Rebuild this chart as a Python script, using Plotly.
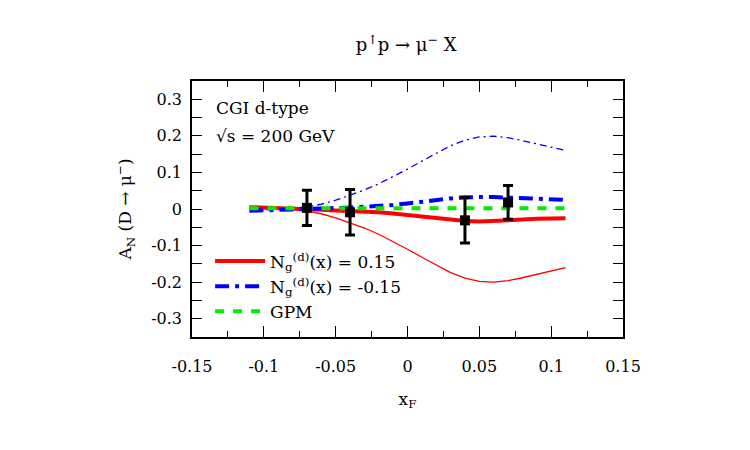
import plotly.graph_objects as go

# ---- data ----
x_curve = [-0.11, -0.10, -0.09, -0.08, -0.07, -0.06, -0.05, -0.04, -0.03, -0.02, -0.01,
           0.00, 0.01, 0.02, 0.03, 0.04, 0.05, 0.06, 0.07, 0.08, 0.09, 0.10, 0.11]

red_thick = [0.005, 0.004, 0.002, 0.001, 0.000, -0.002, -0.004, -0.005, -0.007, -0.009, -0.012,
             -0.016, -0.021, -0.026, -0.030, -0.033, -0.034, -0.033, -0.031, -0.029, -0.027, -0.026, -0.025]
blue_thick = [-0.005, -0.004, -0.002, -0.001, 0.000, 0.002, 0.003, 0.004, 0.006, 0.008, 0.011,
              0.015, 0.020, 0.025, 0.029, 0.032, 0.033, 0.033, 0.031, 0.029, 0.027, 0.026, 0.025]
red_thin = [0.005, 0.003, 0.001, -0.002, -0.006, -0.013, -0.024, -0.037, -0.052, -0.069, -0.089,
            -0.110, -0.132, -0.154, -0.174, -0.189, -0.198, -0.200, -0.196, -0.188, -0.178, -0.168, -0.160]
blue_thin = [-0.005, -0.003, -0.001, 0.002, 0.006, 0.013, 0.024, 0.037, 0.052, 0.069, 0.088,
             0.109, 0.131, 0.153, 0.173, 0.188, 0.197, 0.199, 0.195, 0.187, 0.178, 0.168, 0.160]
gpm = [0.002] * len(x_curve)

x_data = [-0.07, -0.04, 0.04, 0.07]
y_data = [0.003, -0.009, -0.031, 0.018]
y_err = [0.048, 0.062, 0.062, 0.046]

x_ticks = [-0.15, -0.1, -0.05, 0, 0.05, 0.1, 0.15]
x_ticklabels = ["-0.15", "-0.1", "-0.05", "0", "0.05", "0.1", "0.15"]
y_ticks = [-0.3, -0.2, -0.1, 0, 0.1, 0.2, 0.3]
y_ticklabels = ["-0.3", "-0.2", "-0.1", "0", "0.1", "0.2", "0.3"]

FONT = "DejaVu Serif"
FS = 16

fig = go.Figure()

fig.add_trace(go.Scatter(x=x_curve, y=red_thin, mode="lines", showlegend=False,
                         line=dict(color="#ff0000", width=1.3)))
fig.add_trace(go.Scatter(x=x_curve, y=blue_thin, mode="lines", showlegend=False,
                         line=dict(color="#0000ff", width=1.3, dash="7px,4px,2px,4px")))
fig.add_trace(go.Scatter(x=x_curve, y=red_thick, mode="lines",
                         name="N<sub>g</sub><sup>(d)</sup>(x) = 0.15",
                         line=dict(color="#ff0000", width=4)))
fig.add_trace(go.Scatter(x=x_curve, y=blue_thick, mode="lines",
                         name="N<sub>g</sub><sup>(d)</sup>(x) = -0.15",
                         line=dict(color="#0000ff", width=4, dash="14px,6px,4px,6px")))
fig.add_trace(go.Scatter(x=x_curve, y=gpm, mode="lines", name="GPM",
                         line=dict(color="#00ee00", width=4, dash="9px,9px")))
fig.add_trace(go.Scatter(x=x_data, y=y_data, mode="markers", showlegend=False,
                         marker=dict(symbol="square", size=10, color="black"),
                         error_y=dict(type="data", array=y_err, color="black",
                                      thickness=3, width=5)))

fig.add_annotation(text="CGI d-type", x=0.05, y=0.894, xref="paper", yref="paper",
                   xanchor="left", yanchor="middle", showarrow=False,
                   font=dict(family=FONT, size=17, color="black"))
fig.add_annotation(text="√s = 200 GeV", x=0.05, y=0.785, xref="paper", yref="paper",
                   xanchor="left", yanchor="middle", showarrow=False,
                   font=dict(family=FONT, size=17, color="black"))

axis_common = dict(showline=True, linecolor="black", linewidth=1.5, mirror="allticks",
                   ticks="inside", tickcolor="black", showgrid=False, zeroline=False,
                   tickfont=dict(family=FONT, size=FS, color="black"))

fig.update_xaxes(range=[-0.15, 0.15], tickvals=x_ticks, ticktext=x_ticklabels,
                 ticklen=11, tickwidth=1.2, ticklabelstandoff=14,
                 minor=dict(dtick=0.025, tick0=0, ticks="inside", ticklen=6,
                            tickcolor="black", tickwidth=1.2, showgrid=False),
                 title=dict(text="x<sub>F</sub>", font=dict(family=FONT, size=17, color="black"),
                            standoff=18),
                 **axis_common)
fig.update_yaxes(range=[-0.35, 0.35], tickvals=y_ticks, ticktext=y_ticklabels,
                 ticklen=10, tickwidth=1.2, ticklabelstandoff=5,
                 minor=dict(dtick=0.05, tick0=0, ticks="inside", ticklen=10,
                            tickcolor="black", tickwidth=1.2, showgrid=False),
                 title=dict(text="A<sub>N</sub> (D → μ<sup>−</sup>)",
                            font=dict(family=FONT, size=17, color="black"), standoff=15),
                 **axis_common)

fig.update_layout(
    width=750, height=450,
    paper_bgcolor="white", plot_bgcolor="white",
    margin=dict(l=192, r=127, t=81, b=113),
    title=dict(text="p<sup>↑</sup>p → μ<sup>−</sup> X", x=0.5415, xanchor="center",
               y=0.9, yanchor="middle", font=dict(family=FONT, size=18, color="black")),
    legend=dict(x=0.042, y=0.365, xanchor="left", yanchor="top", bgcolor="rgba(0,0,0,0)",
                font=dict(family=FONT, size=17, color="black"), itemwidth=50,
                tracegroupgap=0),
    showlegend=True,
)

fig.write_html("out.html")
